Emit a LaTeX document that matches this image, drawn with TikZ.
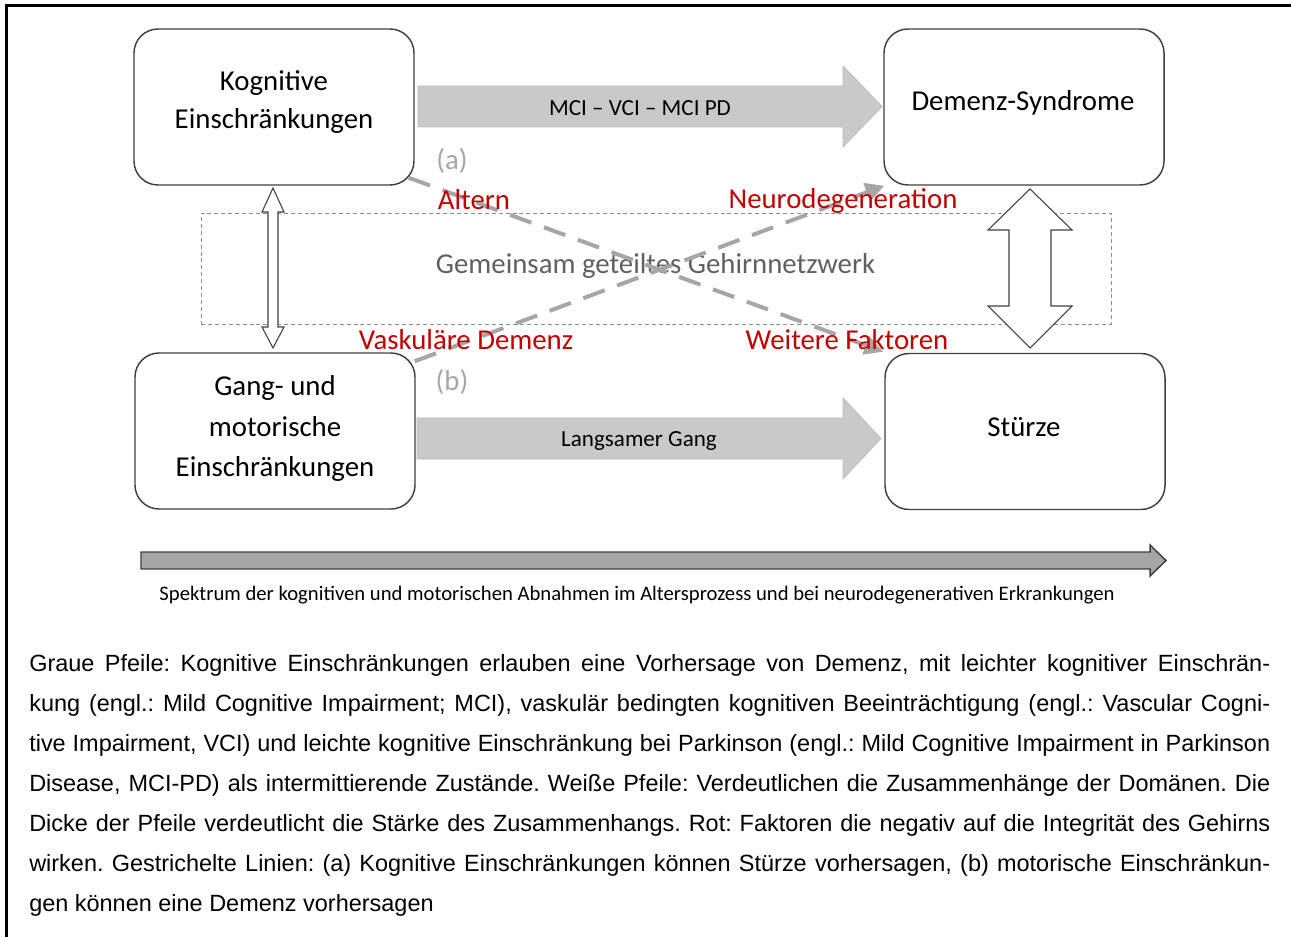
\documentclass[tikz,border=0pt]{standalone}
\usepackage{fontspec}
\setmainfont{Carlito}
\newfontfamily\capfont{Liberation Sans}
\usetikzlibrary{arrows.meta,calc}
\frenchspacing

\definecolor{boxline}{HTML}{404040}
\definecolor{blockfill}{HTML}{C9C9C9}
\definecolor{blockline}{HTML}{BDBDBD}
\definecolor{dashgray}{HTML}{A6A6A6}
\definecolor{netgray}{HTML}{606060}
\definecolor{rectgray}{HTML}{8C8C8C}
\definecolor{factred}{HTML}{C00000}
\definecolor{specfill}{HTML}{A6A6A6}
\definecolor{specline}{HTML}{3F3F3F}

\newcommand\boxfont{\fontsize{21.6}{26}\selectfont}
\newcommand\arrowfont{\fontsize{17.3}{21}\selectfont}
\newcommand\specfont{\fontsize{15.5}{19}\selectfont}
\newcommand\captionfont{\capfont\fontsize{17.6}{21}\selectfont}
\newcommand\capline[1]{\makebox[930.75pt][s]{#1}}

\begin{document}
\begin{tikzpicture}[x=0.75pt,y=-0.75pt,
  domainbox/.style={draw=boxline,line width=1.1pt,rounded corners=18pt,
    minimum width=210pt,minimum height=117pt,inner sep=0pt,fill=white},
  boxtext/.style={anchor=base,inner sep=0pt,font=\boxfont,text=black},
  arrowtext/.style={anchor=base,inner sep=0pt,font=\arrowfont,text=black},
  factortext/.style={anchor=base,inner sep=0pt,font=\boxfont,text=factred},
  tagtext/.style={anchor=base,inner sep=0pt,font=\boxfont,text=dashgray},
  blockarrow/.style={fill=blockfill,draw=blockline,line width=0.6pt},
  whitearrow/.style={fill=white,draw=boxline,line width=0.8pt,line join=miter},
  predictline/.style={draw=dashgray,line width=3pt,dash pattern=on 17pt off 10pt,
    -{Triangle[length=14pt,width=14pt]}},
  capnode/.style={anchor=base west,inner sep=0pt,font=\captionfont}]

\useasboundingbox (0,0) rectangle (1291,937);

% page frame (top and left rule)
\draw[line width=2.25pt] (6,937) -- (6,6) -- (1291,6);

% shared brain network area
\node[draw=rectgray,line width=0.7pt,dash pattern=on 3pt off 2.2pt,
  minimum width=682.5pt,minimum height=83.25pt,inner sep=0pt] (net) at (656,269) {};
\node[anchor=base,inner sep=0pt,font=\boxfont,text=netgray] (nettext) at (655.5,274)
  {Gemeinsam geteiltes Gehirnnetzwerk};

% domains
\node[domainbox] (kog) at (274,107) {};
\node[domainbox] (dem) at (1024,107) {};
\node[domainbox] (gang) at (275,431) {};
\node[domainbox] (sturz) at (1025,431.5) {};

\node[boxtext] (kog1) at (274,91) {Kognitive};
\node[boxtext] (kog2) at (274,129) {Einschränkungen};
\node[boxtext] (dem1) at (1023,110.5) {Demenz-Syndrome};
\node[boxtext] (gang1) at (275,396) {Gang- und};
\node[boxtext] (gang2) at (275,436) {motorische};
\node[boxtext] (gang3) at (275,476) {Einschränkungen};
\node[boxtext] (sturz1) at (1024,436) {Stürze};

% grey block arrows
\draw[blockarrow] (418,86) -- (843,86) -- (843,66) -- (882,106.5) -- (843,147)
  -- (843,127) -- (418,127) -- cycle;
\node[arrowtext] (mci) at (640,116) {MCI – VCI – MCI PD};
\draw[blockarrow] (417,418) -- (843,418) -- (843,398) -- (881,438.5) -- (843,479)
  -- (843,459) -- (417,459) -- cycle;
\node[arrowtext] (slow) at (639,446) {Langsamer Gang};

% white double arrows
\draw[whitearrow] (273,188) -- (284,212) -- (278,212) -- (278,327) -- (284,327)
  -- (273,348) -- (262,327) -- (268,327) -- (268,212) -- (262,212) -- cycle;
\draw[whitearrow] (1030,189) -- (1072,230) -- (1051,230) -- (1051,306) -- (1072,306)
  -- (1030,348) -- (988,306) -- (1009,306) -- (1009,230) -- (988,230) -- cycle;

% dashed prediction lines
\coordinate (a0) at ($(kog.south east)+(-6,-8)$);
\coordinate (a1) at ($(sturz.north west)+(-1,-1)$);
\coordinate (b0) at ($(gang.north east)+(-1,9)$);
\coordinate (b1) at ($(dem.south west)+(1,0)$);
\draw[predictline] (a0) -- (a1);
\draw[predictline] (b0) -- (b1);
\node[tagtext] (taga) at (452,170) {(a)};
\node[tagtext] (tagb) at (452,391) {(b)};

% factors acting on brain integrity
\node[factortext] (alt) at (474,210) {Altern};
\node[factortext] (neuro) at (843,209) {Neurodegeneration};
\node[factortext] (vask) at (466,350) {Vaskuläre Demenz};
\node[factortext] (weit) at (847,349.5) {Weitere Faktoren};

% spectrum arrow
\draw[fill=specfill,draw=specline,line width=1.1pt] (141,552) -- (1150,552) -- (1150,545)
  -- (1166,560.5) -- (1150,576) -- (1150,569) -- (141,569) -- cycle;
\node[anchor=base,inner sep=0pt,font=\specfont] (spec) at (637,600)
  {Spektrum der kognitiven und motorischen Abnahmen im Altersprozess und bei neurodegenerativen Erkrankungen};

% caption
\node[capnode] (c1) at (29,671) {\capline{Graue Pfeile: Kognitive Einschränkungen erlauben eine Vorhersage von Demenz, mit leichter kognitiver Einschrän-}};
\node[capnode] (c2) at (29,711) {\capline{kung (engl.: Mild Cognitive Impairment; MCI), vaskulär bedingten kognitiven Beeinträchtigung (engl.: Vascular Cogni-}};
\node[capnode] (c3) at (29,751) {\capline{tive Impairment, VCI) und leichte kognitive Einschränkung bei Parkinson (engl.: Mild Cognitive Impairment in Parkinson}};
\node[capnode] (c4) at (29,791) {\capline{Disease, MCI-PD) als intermittierende Zustände. Weiße Pfeile: Verdeutlichen die Zusammenhänge der Domänen. Die}};
\node[capnode] (c5) at (29,831) {\capline{Dicke der Pfeile verdeutlicht die Stärke des Zusammenhangs. Rot: Faktoren die negativ auf die Integrität des Gehirns}};
\node[capnode] (c6) at (29,871) {\capline{wirken. Gestrichelte Linien: (a) Kognitive Einschränkungen können Stürze vorhersagen, (b) motorische Einschränkun-}};
\node[capnode] (c7) at (29,911) {gen können eine Demenz vorhersagen};

\end{tikzpicture}
\end{document}
